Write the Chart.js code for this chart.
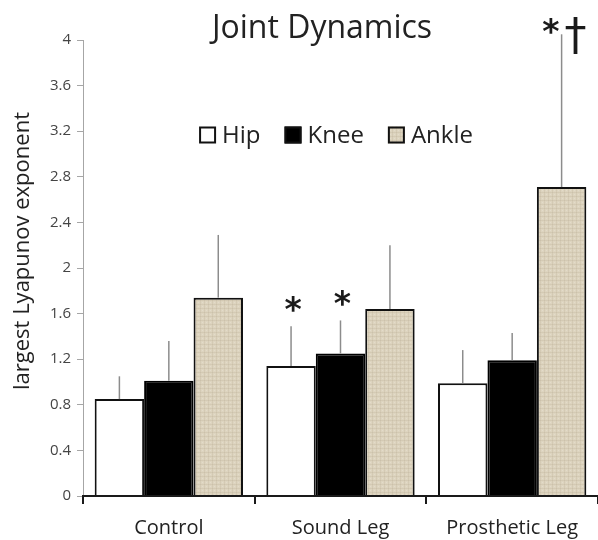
<!DOCTYPE html>
<html>
<head>
<meta charset="utf-8">
<script src="https://cdn.jsdelivr.net/npm/chart.js@4"></script>
<style>
  html, body { margin: 0; padding: 0; background: #ffffff; }
  canvas { display: block; }
</style>
</head>
<body>
<canvas id="chart" width="598" height="540"></canvas>
<script>
// Largest Lyapunov exponent per joint (mean and SD) for each group
const categories = ['Control', 'Sound Leg', 'Prosthetic Leg'];
const seriesNames = ['Hip', 'Knee', 'Ankle'];
const hipMean = [0.85, 1.14, 0.99];
const hipSD = [0.20, 0.35, 0.29];
const kneeMean = [1.01, 1.25, 1.19];
const kneeSD = [0.35, 0.29, 0.24];
const ankleMean = [1.74, 1.64, 2.71];
const ankleSD = [0.55, 0.56, 1.34];
// significance markers printed above the error bars
const hipMarks = ['', '*', ''];
const kneeMarks = ['', '*', ''];
const ankleMarks = ['', '', '*\u2020'];
const yTicks = [0, 0.4, 0.8, 1.2, 1.6, 2, 2.4, 2.8, 3.2, 3.6, 4];
const yTitle = 'largest Lyapunov exponent';
const chartTitle = 'Joint Dynamics';

const FONT = '"Open Sans", "DejaVu Sans", sans-serif';
const MARK_FONT = '"DejaVu Sans", sans-serif';
const canvas = document.getElementById('chart');
const ctx = canvas.getContext('2d');

// woven beige fill for the ankle bars
function linenPattern() {
  const t = document.createElement('canvas');
  t.width = 4; t.height = 4;
  const g = t.getContext('2d');
  g.fillStyle = '#ddd4bf';
  g.fillRect(0, 0, 4, 4);
  g.fillStyle = 'rgba(150,135,105,0.12)';
  g.fillRect(0, 0, 4, 1);
  g.fillRect(0, 0, 1, 4);
  g.fillStyle = 'rgba(255,255,255,0.18)';
  g.fillRect(2, 2, 1, 1);
  return ctx.createPattern(t, 'repeat');
}
const linen = linenPattern();

// error whiskers, significance marks, legend and y-axis title
const annotate = {
  id: 'annotate',
  afterDatasetsDraw(chart) {
    const c = chart.ctx;
    const y = chart.scales.y;
    chart.data.datasets.forEach((ds, i) => {
      const meta = chart.getDatasetMeta(i);
      meta.data.forEach((bar, j) => {
        const top = y.getPixelForValue(ds.data[j] + ds.sd[j]);
        c.save();
        c.strokeStyle = '#8c8c8c';
        c.lineWidth = 1.5;
        c.beginPath();
        c.moveTo(bar.x, bar.y);
        c.lineTo(bar.x, top);
        c.stroke();
        c.restore();
        const mark = ds.marks[j];
        if (mark) drawMark(c, mark, bar.x, Math.max(top - 22, chart.chartArea.top - 14));
      });
    });
  },
  afterDraw(chart) {
    const c = chart.ctx;
    // legend
    c.save();
    c.font = '24px ' + FONT;
    c.textBaseline = 'middle';
    c.textAlign = 'left';
    const box = 17, gapBox = 6, gapItem = 24, cx = 336, cy = 135;
    const items = chart.data.datasets.map(ds => ({
      ds, w: box + gapBox + c.measureText(ds.label).width
    }));
    const total = items.reduce((s, it) => s + it.w, 0) + gapItem * (items.length - 1);
    let x = cx - total / 2;
    items.forEach(it => {
      c.fillStyle = it.ds.backgroundColor;
      c.fillRect(x, cy - box / 2, box, box);
      c.strokeStyle = '#111';
      c.lineWidth = 2;
      c.strokeRect(x + 1, cy - box / 2 + 1, box - 2, box - 2);
      c.fillStyle = '#222';
      c.fillText(it.ds.label, x + box + gapBox, cy + 1);
      x += it.w + gapItem;
    });
    c.restore();
    // y-axis title
    c.save();
    c.translate(23, 251);
    c.rotate(-Math.PI / 2);
    c.font = '22px ' + FONT;
    c.fillStyle = '#222';
    c.textAlign = 'center';
    c.textBaseline = 'middle';
    c.fillText(yTitle, 0, 0);
    c.restore();
  }
};

function glyphCentered(c, ch, x, cy, align) {
  const m = c.measureText(ch);
  const asc = m.actualBoundingBoxAscent, desc = m.actualBoundingBoxDescent;
  c.textAlign = align;
  c.fillText(ch, x, cy + (asc - desc) / 2);
}

function drawMark(c, mark, x, cy) {
  c.save();
  c.fillStyle = '#1a1a1a';
  c.textBaseline = 'alphabetic';
  c.font = 'bold 33px ' + MARK_FONT;
  if (mark.length === 1) {
    glyphCentered(c, mark, x + 2, cy, 'center');
  } else {
    glyphCentered(c, mark[0], x - 2, cy, 'right');
    c.font = '44px ' + MARK_FONT;
    const m = c.measureText(mark[1]);
    const h = m.actualBoundingBoxAscent + m.actualBoundingBoxDescent;
    glyphCentered(c, mark[1], x + 3, cy - 9 + h / 2, 'left');
  }
  c.restore();
}

new Chart(ctx, {
  type: 'bar',
  data: {
    labels: categories,
    datasets: [
      { label: seriesNames[0], data: hipMean, sd: hipSD, marks: hipMarks,
        backgroundColor: '#ffffff', borderColor: '#111111', borderWidth: 2 },
      { label: seriesNames[1], data: kneeMean, sd: kneeSD, marks: kneeMarks,
        backgroundColor: '#000000', borderColor: '#000000', borderWidth: 2 },
      { label: seriesNames[2], data: ankleMean, sd: ankleSD, marks: ankleMarks,
        backgroundColor: linen, borderColor: '#111111', borderWidth: 2 }
    ]
  },
  options: {
    responsive: false,
    animation: false,
    layout: { padding: { left: 46, right: 0, top: 0, bottom: 0 } },
    datasets: {
      bar: { categoryPercentage: 0.864, barPercentage: 1.0, borderSkipped: 'bottom' }
    },
    plugins: {
      legend: { display: false },
      tooltip: { enabled: false },
      title: {
        display: true,
        text: chartTitle,
        color: '#222',
        font: { family: FONT, size: 32, weight: 'normal', lineHeight: 0.75 },
        padding: { top: 17, bottom: -1 }
      }
    },
    scales: {
      x: {
        offset: true,
        afterFit: s => { s.height = 44; },
        grid: { display: true, offset: true, drawOnChartArea: false, drawTicks: true,
                tickLength: 8, color: '#1a1a1a', lineWidth: 2 },
        border: { display: true, color: '#1a1a1a', width: 2, z: 1 },
        ticks: { color: '#222', padding: 12, font: { family: FONT, size: 20 } }
      },
      y: {
        min: 0,
        max: 4,
        afterBuildTicks: s => { s.ticks = yTicks.map(v => ({ value: v })); },
        afterFit: s => { s.width = 37; },
        grid: { display: true, drawOnChartArea: false, drawTicks: true,
                tickLength: 6, color: '#a6a6a6', lineWidth: 1 },
        border: { display: true, color: '#a6a6a6', width: 1 },
        ticks: { color: '#444', padding: 6, font: { family: FONT, size: 15 },
                 callback: v => String(v) }
      }
    }
  },
  plugins: [annotate]
});
</script>
</body>
</html>
